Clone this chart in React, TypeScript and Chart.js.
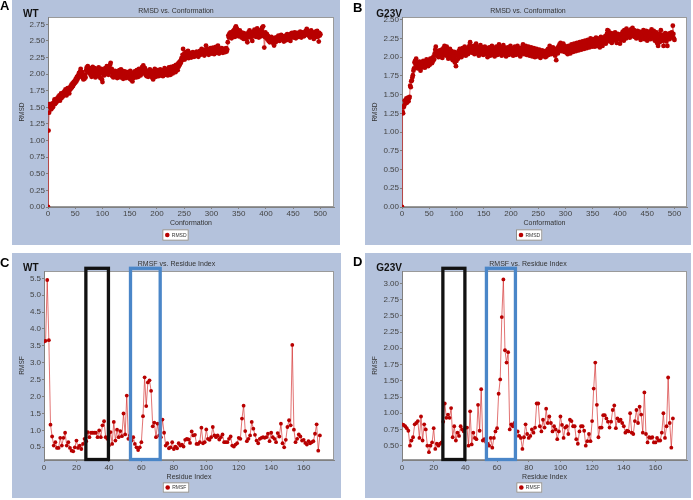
import { useEffect, useRef } from 'react';
import { Chart, registerables } from 'chart.js';

Chart.register(...registerables);

const FONT = "'Liberation Sans', Arial, sans-serif";
const BG = '#b4c2dc';
const AXIS = '#808080';
const TICK = '#444444';
const MARK = '#b80000';
const LINE = 'rgba(210,40,40,0.65)';

// ---------- Panel A: WT RMSD vs. Conformation ----------
const rmsdWT = [
  0.00, 1.15, 1.42, 1.55, 1.50, 1.53, 1.47, 1.52, 1.56, 1.50,
  1.54, 1.58, 1.62, 1.55, 1.60, 1.57, 1.63, 1.59, 1.61, 1.66,
  1.62, 1.68, 1.60, 1.65, 1.71, 1.64, 1.69, 1.66, 1.72, 1.68,
  1.74, 1.70, 1.77, 1.72, 1.68, 1.75, 1.79, 1.73, 1.78, 1.71,
  1.76, 1.81, 1.78, 1.84, 1.80, 1.86, 1.82, 1.88, 1.85, 1.90,
  1.87, 1.93, 1.89, 1.96, 1.92, 1.98, 1.95, 2.02, 1.97, 2.04,
  2.08, 2.00, 1.96, 2.03, 1.94, 1.92, 1.97, 1.93, 1.99, 1.95,
  2.06, 2.10, 2.04, 2.12, 2.07, 2.02, 2.09, 2.05, 1.99, 2.08,
  1.96, 2.03, 2.11, 1.98, 2.06, 2.01, 2.09, 1.95, 2.04, 2.00,
  2.07, 1.97, 2.02, 2.10, 1.99, 2.05, 1.94, 2.03, 2.08, 1.92,
  1.88, 2.01, 2.06, 1.98, 2.04, 2.09, 2.00, 2.05, 2.12, 2.02,
  2.07, 1.99, 2.10, 2.04, 2.14, 2.17, 2.03, 2.08, 1.97, 2.01,
  1.95, 2.03, 1.98, 2.05, 1.99, 1.96, 2.02, 1.94, 2.04, 2.00,
  1.97, 2.06, 2.01, 1.95, 2.07, 2.03, 1.98, 2.05, 1.93, 2.00,
  1.96, 2.04, 1.99, 1.94, 2.02, 1.97, 2.03, 1.95, 2.00, 1.98,
  1.93, 2.05, 1.99, 1.91, 1.96, 1.89, 2.02, 1.94, 1.98, 2.04,
  1.97, 2.01, 1.95, 2.06, 1.99, 2.03, 1.96, 2.08, 2.00, 2.05,
  1.98, 2.07, 2.02, 2.11, 2.04, 2.13, 2.06, 2.01, 2.09, 1.99,
  2.03, 1.97, 2.05, 2.00, 1.96, 2.04, 1.99, 2.07, 2.02, 1.98,
  2.05, 1.95, 2.01, 1.92, 1.97, 2.04, 2.08, 2.00, 1.96, 2.03,
  1.99, 2.06, 2.02, 1.97, 2.04, 2.00, 2.07, 1.98, 2.03, 2.05,
  2.00, 1.97, 2.06, 2.02, 2.09, 1.99, 2.04, 2.01, 2.07, 2.03,
  1.98, 2.05, 2.10, 2.02, 2.07, 1.99, 2.11, 2.04, 2.08, 2.01,
  2.06, 2.12, 2.05, 2.10, 2.03, 2.14, 2.08, 2.13, 2.06, 2.16,
  2.11, 2.18, 2.14, 2.20, 2.17, 2.24, 2.21, 2.29, 2.38, 2.26,
  2.30, 2.22, 2.27, 2.33, 2.25, 2.31, 2.28, 2.35, 2.24, 2.30,
  2.26, 2.32, 2.28, 2.25, 2.31, 2.27, 2.33, 2.29, 2.26, 2.30,
  2.27, 2.32, 2.29, 2.34, 2.28, 2.31, 2.26, 2.33, 2.30, 2.35,
  2.29, 2.32, 2.38, 2.31, 2.36, 2.30, 2.34, 2.28, 2.37, 2.33,
  2.43, 2.35, 2.31, 2.38, 2.33, 2.29, 2.36, 2.32, 2.39, 2.34,
  2.31, 2.37, 2.33, 2.40, 2.35, 2.30, 2.38, 2.34, 2.41, 2.36,
  2.32, 2.37, 2.43, 2.35, 2.31, 2.38, 2.34, 2.36, 2.33, 2.39,
  2.35, 2.32, 2.37, 2.34, 2.38, 2.33, 2.36, 2.39, 2.34, 2.37,
  2.48, 2.58, 2.55, 2.61, 2.57, 2.63, 2.59, 2.54, 2.62, 2.58,
  2.65, 2.60, 2.67, 2.56, 2.70, 2.72, 2.63, 2.68, 2.59, 2.64,
  2.57, 2.61, 2.66, 2.58, 2.63, 2.55, 2.60, 2.57, 2.62, 2.53,
  2.59, 2.55, 2.61, 2.57, 2.52, 2.58, 2.48, 2.56, 2.63, 2.59,
  2.66, 2.60, 2.55, 2.62, 2.58, 2.50, 2.57, 2.64, 2.61, 2.67,
  2.59, 2.64, 2.56, 2.62, 2.69, 2.58, 2.63, 2.55, 2.60, 2.66,
  2.61, 2.57, 2.65, 2.70, 2.62, 2.72, 2.58, 2.40, 2.56, 2.63,
  2.58, 2.54, 2.60, 2.52, 2.57, 2.50, 2.55, 2.48, 2.53, 2.51,
  2.56, 2.49, 2.54, 2.47, 2.52, 2.43, 2.50, 2.55, 2.48, 2.53,
  2.51, 2.56, 2.52, 2.58, 2.54, 2.50, 2.57, 2.53, 2.59, 2.55,
  2.52, 2.57, 2.54, 2.49, 2.56, 2.53, 2.58, 2.51, 2.55, 2.60,
  2.54, 2.57, 2.52, 2.59, 2.55, 2.50, 2.61, 2.56, 2.62, 2.58,
  2.55, 2.60, 2.57, 2.63, 2.58, 2.54, 2.61, 2.57, 2.62, 2.59,
  2.56, 2.61, 2.58, 2.64, 2.59, 2.55, 2.62, 2.58, 2.63, 2.60,
  2.57, 2.62, 2.59, 2.65, 2.61, 2.68, 2.60, 2.64, 2.58, 2.63,
  2.59, 2.55, 2.62, 2.66, 2.60, 2.57, 2.63, 2.59, 2.53, 2.61,
  2.58, 2.64, 2.60, 2.56, 2.65, 2.61, 2.57, 2.49, 2.62, 2.58,
  2.60,
];

// ---------- Panel B: G23V RMSD vs. Conformation ----------
const rmsdG23V = [
  0.00, 1.27, 1.25, 1.33, 1.35, 1.42, 1.38, 1.40, 1.45, 1.39,
  1.42, 1.46, 1.41, 1.45, 1.47, 1.62, 1.60, 1.68, 1.69, 1.73,
  1.76, 1.82, 1.85, 1.93, 1.95, 1.90, 1.98, 1.93, 1.88, 1.85,
  1.91, 1.87, 1.94, 1.89, 1.82, 1.90, 1.86, 1.93, 1.88, 1.95,
  1.89, 1.92, 1.86, 1.94, 1.90, 1.97, 1.91, 1.95, 1.88, 1.93,
  1.96, 1.90, 1.98, 1.93, 1.97, 1.92, 1.99, 1.95, 2.01, 1.97,
  2.05, 2.10, 2.14, 2.04, 2.08, 2.02, 2.07, 2.00, 2.05, 2.09,
  2.03, 2.07, 2.01, 2.10, 1.99, 2.05, 2.12, 2.03, 2.15, 2.06,
  2.10, 2.02, 2.14, 2.05, 2.09, 1.98, 2.07, 2.03, 2.11, 1.99,
  2.05, 2.08, 2.01, 1.96, 2.04, 1.99, 2.07, 1.93, 2.02, 1.88,
  1.95, 2.03, 2.06, 1.98, 2.08, 2.01, 2.11, 2.04, 2.09, 2.00,
  2.06, 2.12, 2.03, 2.09, 2.05, 2.14, 2.07, 2.02, 2.11, 2.06,
  2.10, 2.04, 2.13, 2.08, 2.16, 2.20, 2.09, 2.14, 2.06, 2.12,
  2.07, 2.15, 2.10, 2.04, 2.13, 2.08, 2.18, 2.11, 2.05, 2.14,
  2.09, 2.02, 2.12, 2.07, 2.16, 2.10, 2.05, 2.13, 2.08, 2.03,
  2.11, 2.06, 2.14, 2.09, 2.04, 2.12, 2.07, 2.00, 2.10, 2.05,
  2.13, 2.08, 2.02, 2.11, 2.06, 2.15, 2.09, 2.03, 2.12, 2.07,
  2.01, 2.10, 2.05, 2.14, 2.08, 2.03, 2.12, 2.07, 2.17, 2.10,
  2.04, 2.13, 2.08, 2.02, 2.11, 2.06, 2.16, 2.09, 2.04, 2.12,
  2.07, 2.01, 2.10, 2.05, 2.13, 2.08, 2.03, 2.11, 2.06, 2.15,
  2.09, 2.04, 2.12, 2.07, 2.02, 2.10, 2.05, 2.14, 2.08, 2.03,
  2.11, 2.06, 2.15, 2.09, 2.04, 2.12, 2.07, 2.01, 2.10, 2.05,
  2.13, 2.08, 2.17, 2.10, 2.04, 2.12, 2.07, 2.15, 2.09, 2.03,
  2.11, 2.06, 2.14, 2.08, 2.02, 2.10, 2.05, 2.13, 2.07, 2.01,
  2.09, 2.04, 2.12, 2.06, 2.00, 2.08, 2.03, 2.11, 2.05, 2.01,
  2.07, 2.02, 2.10, 2.04, 1.99, 2.06, 2.01, 2.09, 2.03, 2.07,
  2.02, 2.08, 2.04, 2.00, 2.06, 2.01, 2.09, 2.05, 2.11, 2.03,
  2.08, 2.15, 2.06, 2.12, 2.04, 2.10, 2.07, 2.13, 2.05, 2.11,
  2.08, 2.02, 2.10, 1.96, 2.07, 2.12, 2.05, 2.14, 2.09, 2.17,
  2.11, 2.19, 2.13, 2.08, 2.16, 2.10, 2.18, 2.12, 2.07, 2.15,
  2.09, 2.13, 2.06, 2.11, 2.04, 2.10, 2.15, 2.08, 2.13, 2.05,
  2.11, 2.17, 2.09, 2.14, 2.07, 2.12, 2.18, 2.10, 2.15, 2.08,
  2.13, 2.19, 2.11, 2.16, 2.09, 2.14, 2.20, 2.12, 2.17, 2.10,
  2.15, 2.21, 2.13, 2.18, 2.11, 2.16, 2.22, 2.14, 2.19, 2.12,
  2.17, 2.23, 2.15, 2.20, 2.13, 2.18, 2.25, 2.16, 2.21, 2.14,
  2.19, 2.24, 2.16, 2.22, 2.14, 2.20, 2.26, 2.17, 2.23, 2.15,
  2.21, 2.18, 2.25, 2.13, 2.20, 2.27, 2.17, 2.23, 2.15, 2.22,
  2.19, 2.26, 2.21, 2.28, 2.18, 2.24, 2.31, 2.36, 2.22, 2.35,
  2.27, 2.21, 2.29, 2.24, 2.32, 2.19, 2.26, 2.30, 2.23, 2.28,
  2.25, 2.33, 2.22, 2.29, 2.19, 2.27, 2.31, 2.24, 2.30, 2.26,
  2.18, 2.28, 2.23, 2.31, 2.25, 2.34, 2.27, 2.22, 2.36, 2.29,
  2.32, 2.25, 2.38, 2.30, 2.27, 2.35, 2.28, 2.33, 2.26, 2.31,
  2.37, 2.29, 2.34, 2.39, 2.28, 2.32, 2.36, 2.27, 2.33, 2.30,
  2.25, 2.31, 2.35, 2.28, 2.32, 2.26, 2.34, 2.29, 2.23, 2.30,
  2.33, 2.27, 2.31, 2.36, 2.28, 2.24, 2.32, 2.29, 2.35, 2.27,
  2.22, 2.30, 2.34, 2.26, 2.31, 2.28, 2.24, 2.33, 2.37, 2.29,
  2.25, 2.32, 2.35, 2.27, 2.22, 2.30, 2.26, 2.33, 2.19, 2.28,
  2.15, 2.24, 2.31, 2.20, 2.28, 2.36, 2.25, 2.30, 2.22, 2.27,
  2.15, 2.29, 2.23, 2.32, 2.26, 2.21, 2.28, 2.15, 2.31, 2.25,
  2.29, 2.24, 2.32, 2.27, 2.30, 2.33, 2.28, 2.42, 2.31, 2.25,
  2.23,
];

// ---------- Panel C: WT RMSF vs. Residue Index ----------
const rmsfWT = [
  3.63, 3.65, 5.45, 3.67, 1.17, 0.82, 0.55, 0.65, 0.48, 0.48,
  0.78, 0.55, 0.78, 0.93, 0.55, 0.65, 0.48, 0.40, 0.38, 0.50,
  0.70, 0.48, 0.55, 0.45, 0.60, 0.75, 0.68, 0.95, 0.80, 0.93,
  0.93, 0.93, 0.93, 0.80, 1.00, 0.80, 1.15, 1.27, 0.80, 0.75,
  0.55, 0.95, 0.60, 1.25, 0.70, 1.02, 0.80, 0.98, 0.83, 1.50,
  0.88, 2.03, 0.75, 0.85, 0.70, 0.80, 0.60, 0.50, 0.42, 0.50,
  0.65, 1.42, 2.57, 1.72, 2.42, 2.48, 2.17, 1.12, 1.23, 0.80,
  1.20, 0.85, 0.80, 1.32, 0.93, 0.55, 0.62, 0.47, 0.50, 0.65,
  0.45, 0.52, 0.47, 0.62, 0.55, 0.58, 0.52, 0.72, 0.75, 0.73,
  0.63, 0.97, 0.85, 0.87, 0.60, 0.60, 0.65, 1.08, 0.62, 0.65,
  1.03, 0.75, 0.72, 0.80, 1.10, 0.85, 0.80, 0.85, 0.73, 0.80,
  0.88, 0.65, 0.65, 0.65, 0.75, 0.82, 0.55, 0.52, 0.58, 0.62,
  0.78, 0.75, 1.35, 1.73, 0.98, 0.68, 0.75, 0.85, 1.25, 1.05,
  0.87, 0.70, 0.62, 0.75, 0.78, 0.80, 0.78, 0.80, 0.90, 0.68,
  0.93, 0.80, 0.75, 0.65, 0.92, 0.82, 1.20, 0.62, 0.50, 0.72,
  1.10, 1.30, 1.15, 3.53, 1.02, 0.65, 0.75, 0.88, 0.82, 0.70,
  0.72, 0.63, 0.58, 0.68, 0.62, 0.65, 0.68, 0.90, 1.18, 0.40,
  0.85,
];

// ---------- Panel D: G23V RMSF vs. Residue Index ----------
const rmsfG23V = [
  0.83, 0.82, 0.80, 0.77, 0.73, 0.50, 0.58, 0.63, 0.83, 0.85,
  0.88, 0.62, 0.95, 0.58, 0.83, 0.75, 0.50, 0.40, 0.50, 0.55,
  0.77, 0.45, 0.53, 0.50, 0.53, 0.55, 0.87, 1.15, 0.93, 0.98,
  0.93, 1.08, 0.63, 0.80, 0.58, 0.70, 0.65, 0.80, 0.75, 0.72,
  0.78, 0.78, 0.50, 1.03, 0.52, 0.70, 0.62, 0.60, 1.13, 0.73,
  1.37, 0.58, 0.60, 0.56, 0.53, 0.50, 0.62, 0.47, 0.62, 0.72,
  0.77, 1.30, 1.52, 2.48, 3.06, 1.97, 1.78, 1.94, 0.75, 0.83,
  0.80, 0.85, 0.65, 0.72, 0.65, 0.62, 0.45, 0.63, 0.83, 0.68,
  0.62, 0.65, 0.75, 0.70, 0.78, 1.15, 1.15, 0.80, 0.72, 0.90,
  0.78, 1.07, 0.85, 0.95, 0.85, 0.72, 0.80, 0.75, 0.60, 0.72,
  0.95, 0.82, 0.62, 0.78, 0.80, 0.68, 0.90, 0.88, 0.80, 0.80,
  0.60, 0.53, 0.72, 0.80, 0.80, 0.73, 0.50, 0.57, 0.68, 0.57,
  0.88, 1.38, 1.78, 1.13, 0.63, 0.78, 0.78, 0.97, 0.97, 0.92,
  0.87, 0.78, 0.87, 1.05, 1.12, 0.77, 0.92, 0.88, 0.90, 0.85,
  0.80, 0.70, 0.73, 0.72, 1.00, 0.70, 0.68, 0.88, 1.05, 0.85,
  1.10, 0.98, 0.70, 1.32, 0.68, 0.55, 0.63, 0.62, 0.63, 0.55,
  0.55, 0.62, 0.58, 0.58, 0.70, 1.00, 0.62, 0.80, 1.55, 0.85,
  0.47, 0.92,
];

// Tick labels
const confTicks = [0, 50, 100, 150, 200, 250, 300, 350, 400, 450, 500];
const residueTicks = [0, 20, 40, 60, 80, 100, 120, 140, 160];
const rmsdTicksWT = [0, 0.25, 0.5, 0.75, 1.0, 1.25, 1.5, 1.75, 2.0, 2.25, 2.5, 2.75];
const rmsdTicksG23V = [0, 0.25, 0.5, 0.75, 1.0, 1.25, 1.5, 1.75, 2.0, 2.25, 2.5];
const rmsfTicksWT = [0.5, 1.0, 1.5, 2.0, 2.5, 3.0, 3.5, 4.0, 4.5, 5.0, 5.5];
const rmsfTicksG23V = [0.5, 0.75, 1.0, 1.25, 1.5, 1.75, 2.0, 2.25, 2.5, 2.75, 3.0];

// Highlighted residue ranges (black box, blue box)
const highlightRanges = [
  { from: 25.8, to: 39.7, color: '#111111' },
  { from: 53.3, to: 71.6, color: '#4a86c8' },
];

interface PanelSpec {
  left: number; top: number; w: number; h: number;
  bg: [number, number, number, number];
  pad: { left: number; right: number; top: number; bottom: number };
  letter: string; letterPos: [number, number];
  tag: string; tagPos: [number, number];
  title: string; titleY: number;
  xTitle: string; xTitleY: number;
  yTitle: string; yTitleX: number;
  legendLabel: string; legendBox: [number, number, number, number];
  values: number[];
  xMax: number; yMin: number; yMax: number;
  xTicks: number[]; yTicks: number[]; yDecimals: number;
  xTickPad: number;
  pointRadius: number;
  boxes: boolean;
}

const panels: PanelSpec[] = [
  {
    left: 0, top: 0, w: 343, h: 250, bg: [12, 0, 328, 245],
    pad: { left: 8, right: 9, top: 17, bottom: 23 },
    letter: 'A', letterPos: [0, 9.5], tag: 'WT', tagPos: [23, 17.3],
    title: 'RMSD vs. Conformation', titleY: 10.7,
    xTitle: 'Conformation', xTitleY: 223.3, yTitle: 'RMSD', yTitleX: 22.7,
    legendLabel: 'RMSD', legendBox: [162.3, 229.3, 26.4, 11.4],
    values: rmsdWT, xMax: 525, yMin: 0, yMax: 2.86,
    xTicks: confTicks, yTicks: rmsdTicksWT, yDecimals: 2, xTickPad: 0,
    pointRadius: 2.4, boxes: false,
  },
  {
    left: 343, top: 0, w: 350, h: 250, bg: [22, 0, 326, 245],
    pad: { left: 19, right: 6, top: 17, bottom: 23 },
    letter: 'B', letterPos: [10, 11.5], tag: 'G23V', tagPos: [33.3, 17.3],
    title: 'RMSD vs. Conformation', titleY: 10.7,
    xTitle: 'Conformation', xTitleY: 223.3, yTitle: 'RMSD', yTitleX: 32.3,
    legendLabel: 'RMSD', legendBox: [173, 229.3, 26.3, 11.4],
    values: rmsdG23V, xMax: 523, yMin: 0, yMax: 2.536,
    xTicks: confTicks, yTicks: rmsdTicksG23V, yDecimals: 2, xTickPad: 0,
    pointRadius: 2.4, boxes: false,
  },
  {
    left: 0, top: 250, w: 343, h: 250, bg: [12, 3, 329, 245],
    pad: { left: 4, right: 9, top: 21, bottom: 20 },
    letter: 'C', letterPos: [0, 16.7], tag: 'WT', tagPos: [23, 21.3],
    title: 'RMSF vs. Residue Index', titleY: 14,
    xTitle: 'Residue Index', xTitleY: 226.7, yTitle: 'RMSF', yTitleX: 22.7,
    legendLabel: 'RMSF', legendBox: [162.7, 232.3, 26.6, 10.4],
    values: rmsfWT, xMax: 178.7, yMin: 0.124, yMax: 5.716,
    xTicks: residueTicks, yTicks: rmsfTicksWT, yDecimals: 1, xTickPad: 1,
    pointRadius: 1.9, boxes: true,
  },
  {
    left: 343, top: 250, w: 350, h: 250, bg: [22, 3, 326, 245],
    pad: { left: 19, right: 6, top: 21, bottom: 20 },
    letter: 'D', letterPos: [10, 16], tag: 'G23V', tagPos: [33.3, 21.3],
    title: 'RMSF vs. Residue Index', titleY: 14,
    xTitle: 'Residue Index', xTitleY: 226.7, yTitle: 'RMSF', yTitleX: 32.3,
    legendLabel: 'RMSF', legendBox: [173.3, 232.3, 26, 10.4],
    values: rmsfG23V, xMax: 179.9, yMin: 0.28, yMax: 3.19,
    xTicks: residueTicks, yTicks: rmsfTicksG23V, yDecimals: 2, xTickPad: 1,
    pointRadius: 1.9, boxes: true,
  },
];

function Panel({ spec }: { spec: PanelSpec }) {
  const ref = useRef<HTMLCanvasElement>(null);

  useEffect(() => {
    const canvas = ref.current;
    if (!canvas) return;

    const decor = {
      id: 'panelDecor',
      beforeDraw(chart: any) {
        const { ctx, chartArea: ca } = chart;
        ctx.save();
        ctx.fillStyle = '#ffffff';
        ctx.fillRect(0, 0, spec.w, spec.h);
        ctx.fillStyle = BG;
        ctx.fillRect(spec.bg[0], spec.bg[1], spec.bg[2], spec.bg[3]);
        ctx.fillStyle = '#ffffff';
        ctx.fillRect(ca.left, ca.top, ca.right - ca.left, ca.bottom - ca.top);
        ctx.strokeStyle = '#9a9a9a';
        ctx.lineWidth = 1;
        ctx.strokeRect(ca.left + 0.5, ca.top + 0.5, ca.right - ca.left - 1, ca.bottom - ca.top - 1);
        ctx.restore();
      },
      afterDraw(chart: any) {
        const { ctx, chartArea: ca } = chart;
        const xs = chart.scales.x;
        ctx.save();
        const bgCx = spec.bg[0] + spec.bg[2] / 2;
        const caCx = (ca.left + ca.right) / 2;
        const caCy = (ca.top + ca.bottom) / 2;

        // title
        ctx.fillStyle = '#333333';
        ctx.font = `7px ${FONT}`;
        ctx.textAlign = 'center';
        ctx.textBaseline = 'middle';
        ctx.fillText(spec.title, bgCx, spec.titleY);

        // axis titles
        ctx.font = `7px ${FONT}`;
        ctx.fillText(spec.xTitle, caCx, spec.xTitleY);
        ctx.save();
        ctx.translate(spec.yTitleX, caCy);
        ctx.rotate(-Math.PI / 2);
        ctx.font = `6.5px ${FONT}`;
        ctx.fillText(spec.yTitle, 0, 0);
        ctx.restore();

        // highlight boxes
        if (spec.boxes) {
          ctx.lineWidth = 3.3;
          for (const r of highlightRanges) {
            const x1 = xs.getPixelForValue(r.from);
            const x2 = xs.getPixelForValue(r.to);
            ctx.strokeStyle = r.color;
            ctx.strokeRect(x1, ca.top - 2.7, x2 - x1, ca.bottom - ca.top + 2.2);
          }
        }

        // panel letter and tag
        ctx.fillStyle = '#000000';
        ctx.textAlign = 'left';
        ctx.textBaseline = 'alphabetic';
        ctx.font = `bold 13px ${FONT}`;
        ctx.fillText(spec.letter, spec.letterPos[0], spec.letterPos[1]);
        ctx.fillStyle = '#111111';
        ctx.font = `bold 10px ${FONT}`;
        ctx.fillText(spec.tag, spec.tagPos[0], spec.tagPos[1]);

        // legend
        const [lx, ly, lw, lh] = spec.legendBox;
        ctx.fillStyle = '#ffffff';
        ctx.fillRect(lx, ly, lw, lh);
        ctx.strokeStyle = '#8c8c8c';
        ctx.lineWidth = 1;
        ctx.strokeRect(lx + 0.5, ly + 0.5, lw - 1, lh - 1);
        ctx.fillStyle = MARK;
        ctx.beginPath();
        ctx.arc(lx + 5, ly + lh / 2, 2.3, 0, Math.PI * 2);
        ctx.fill();
        ctx.fillStyle = '#333333';
        ctx.font = `5px ${FONT}`;
        ctx.textBaseline = 'middle';
        ctx.fillText(spec.legendLabel, lx + 9.5, ly + lh / 2 + 0.3);
        ctx.restore();
      },
    };

    const chart = new Chart(canvas, {
      type: 'line',
      data: {
        datasets: [
          {
            label: spec.legendLabel,
            data: spec.values.map((v, i) => ({ x: i, y: v })),
            borderColor: LINE,
            borderWidth: 1,
            pointRadius: spec.pointRadius,
            pointBackgroundColor: MARK,
            pointBorderWidth: 0,
            pointBorderColor: MARK,
            tension: 0,
          },
        ],
      },
      options: {
        responsive: false,
        animation: false,
        devicePixelRatio: 1,
        layout: { padding: spec.pad },
        plugins: {
          legend: { display: false },
          title: { display: false },
          tooltip: { enabled: false },
        },
        scales: {
          x: {
            type: 'linear',
            min: 0,
            max: spec.xMax,
            afterBuildTicks: (axis: any) => {
              axis.ticks = spec.xTicks.map((v) => ({ value: v }));
            },
            afterFit: (axis: any) => {
              axis.height = 20;
            },
            grid: { drawOnChartArea: false, drawTicks: true, tickLength: 2, color: AXIS },
            border: { display: true, color: AXIS, width: 1 },
            ticks: {
              color: TICK,
              font: { family: FONT, size: 8 },
              padding: spec.xTickPad,
              maxRotation: 0,
              autoSkip: false,
              callback: (v: any) => String(v),
            },
          },
          y: {
            type: 'linear',
            min: spec.yMin,
            max: spec.yMax,
            afterBuildTicks: (axis: any) => {
              axis.ticks = spec.yTicks.map((v) => ({ value: v }));
            },
            afterFit: (axis: any) => {
              axis.width = 40;
            },
            grid: { drawOnChartArea: false, drawTicks: true, tickLength: 2, color: AXIS },
            border: { display: true, color: AXIS, width: 1 },
            ticks: {
              color: TICK,
              font: { family: FONT, size: 8 },
              padding: 1,
              autoSkip: false,
              callback: (v: any) => Number(v).toFixed(spec.yDecimals),
            },
          },
        },
      },
      plugins: [decor],
    } as any);

    return () => chart.destroy();
  }, [spec]);

  return (
    <div style={{ position: 'absolute', left: spec.left, top: spec.top, width: spec.w, height: spec.h }}>
      <canvas ref={ref} width={spec.w} height={spec.h} style={{ display: 'block', width: spec.w, height: spec.h }} />
    </div>
  );
}

export default function App() {
  return (
    <div style={{ position: 'absolute', left: 0, top: 0, width: 693, height: 500, background: '#ffffff', overflow: 'hidden' }}>
      {panels.map((p) => (
        <Panel key={p.letter} spec={p} />
      ))}
    </div>
  );
}
